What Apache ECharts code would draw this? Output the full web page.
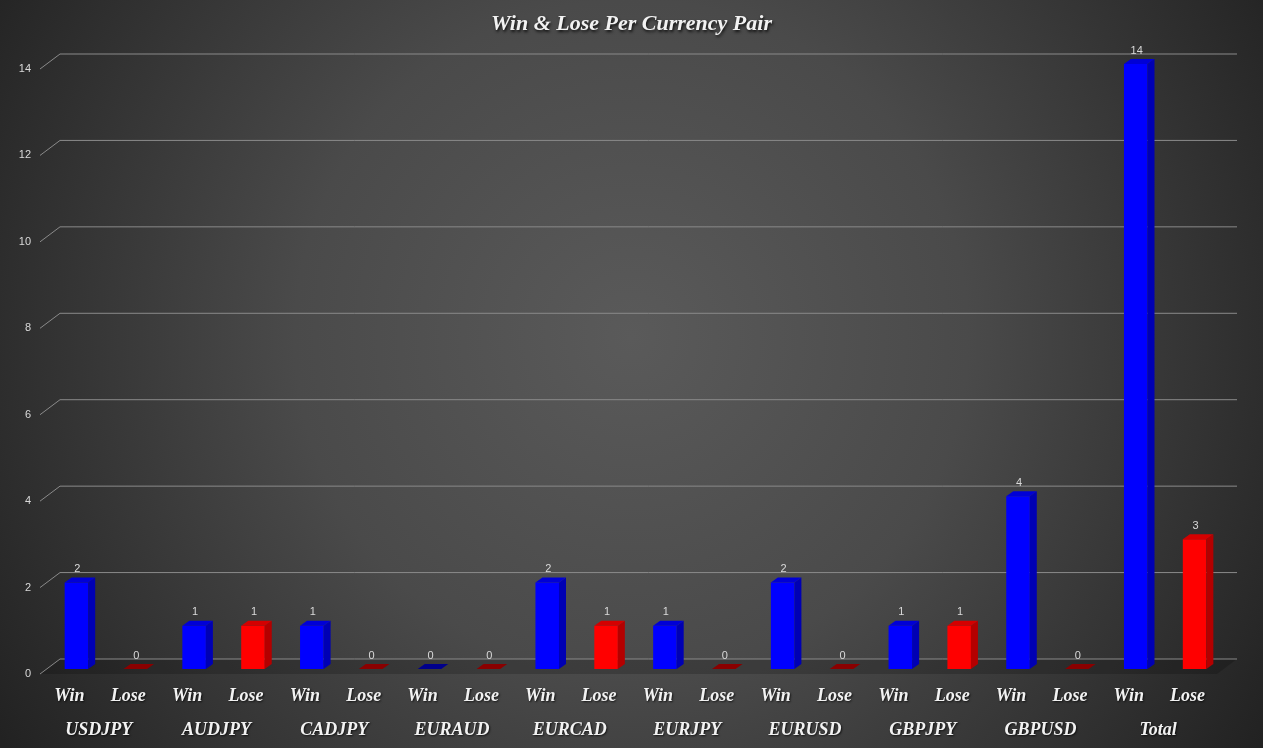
<!DOCTYPE html>
<html><head><meta charset="utf-8">
<script src="https://cdn.jsdelivr.net/npm/echarts@6/dist/echarts.min.js"></script>
<style>html,body{margin:0;padding:0;background:#333;} #main{width:1263px;height:748px;}</style>
</head><body><div id="main"></div>
<script>
const groups = ['USDJPY','AUDJPY','CADJPY','EURAUD','EURCAD','EURJPY','EURUSD','GBPJPY','GBPUSD','Total'];
const outcomes = ['Win','Lose'];
const winValues = [2,1,1,0,2,1,2,1,4,14];
const loseValues = [0,1,0,0,1,0,0,1,0,3];
const yTicks = [0,2,4,6,8,10,12,14];

const categories = [];
const barData = [];
groups.forEach((g, i) => {
  categories.push(g + '|' + outcomes[0]); barData.push([categories.length - 1, winValues[i], 0]);
  categories.push(g + '|' + outcomes[1]); barData.push([categories.length - 1, loseValues[i], 1]);
});

const WALL_DX = 20, WALL_DY = -15;
const FACE = ['#0000ff', '#ff0000'];
const SIDE = ['#0000b4', '#b40000'];
const TOP = ['#0000d6', '#d40000'];
const FLAT = ['#00008c', '#8a0000'];

const labelFont = {
  color: '#f2f2f2', fontFamily: 'Liberation Serif', fontStyle: 'italic', fontWeight: 'bold', fontSize: 18,
  textShadowColor: 'rgba(0,0,0,0.7)', textShadowBlur: 2, textShadowOffsetX: 1, textShadowOffsetY: 1
};

const chart = echarts.init(document.getElementById('main'), null, {renderer: 'canvas'});
chart.setOption({
  animation: false,
  backgroundColor: {
    type: 'radial', x: 0.5, y: 0.45, r: 1.0,
    colorStops: [{offset: 0, color: '#5a5a5a'}, {offset: 0.45, color: '#4a4a4a'}, {offset: 1, color: '#222222'}]
  },
  title: {
    text: 'Win & Lose Per Currency Pair', left: 'center', top: 8,
    textStyle: {
      color: '#f2f2f2', fontFamily: 'Liberation Serif', fontStyle: 'italic', fontWeight: 'bold', fontSize: 22,
      textShadowColor: 'rgba(0,0,0,0.8)', textShadowBlur: 3, textShadowOffsetX: 1, textShadowOffsetY: 2
    }
  },
  grid: {left: 40, right: 46, top: 69, bottom: 74, containLabel: false},
  xAxis: [{
    type: 'category', data: categories, position: 'bottom',
    axisLine: {show: false}, axisTick: {show: false}, splitLine: {show: false},
    axisLabel: Object.assign({margin: 13, interval: 0, formatter: v => v.split('|')[1]}, labelFont)
  }, {
    type: 'category', data: groups, position: 'bottom', offset: 34,
    axisLine: {show: false}, axisTick: {show: false}, splitLine: {show: false},
    axisLabel: Object.assign({margin: 13, interval: 0}, labelFont)
  }],
  yAxis: {
    type: 'value', min: 0, max: 14, interval: 2,
    axisLine: {show: false}, axisTick: {show: false}, splitLine: {show: false},
    axisLabel: {color: '#d9d9d9', fontSize: 11, fontFamily: 'Liberation Sans', margin: 9}
  },
  series: [{
    type: 'custom', z: 1, silent: true,
    data: [[0, 0]],
    encode: {x: 0, y: 1},
    renderItem: (params, api) => {
      const cs = params.coordSys;
      const y = api.coord([0, 0])[1];
      const x0 = cs.x, x1 = cs.x + cs.width;
      return {
        type: 'polygon',
        shape: {points: [[x0, y], [x1, y], [x1 + WALL_DX, y + WALL_DY], [x0 + WALL_DX, y + WALL_DY]]},
        style: {fill: 'rgba(0,0,0,0.18)'}
      };
    }
  }, {
    type: 'custom', z: 2, silent: true,
    data: yTicks.map(v => [0, v]),
    encode: {x: 0, y: 1},
    renderItem: (params, api) => {
      const cs = params.coordSys;
      const y = api.coord([0, api.value(1)])[1];
      const x0 = cs.x, x1 = cs.x + cs.width;
      return {
        type: 'polyline',
        shape: {points: [[x0, y], [x0 + WALL_DX, y + WALL_DY], [x1 + WALL_DX, y + WALL_DY]]},
        style: {stroke: '#8a8a8a', lineWidth: 1, fill: null}
      };
    }
  }, {
    type: 'custom', z: 3, silent: true,
    data: barData,
    encode: {x: 0, y: 1},
    renderItem: (params, api) => {
      const idx = api.value(0), v = api.value(1), t = api.value(2);
      const band = api.size([1, 0])[0];
      const base = api.coord([idx, 0]);
      const top = api.coord([idx, v]);
      const w = band * 0.4;
      const ox = 7, oy = -5, dx = 7, dy = -5;
      const xl = base[0] - w / 2 + ox, xr = xl + w;
      const yb = base[1] + oy, yt = top[1] + oy;
      const children = [];
      if (v > 0) {
        children.push({type: 'rect', shape: {x: xl, y: yt, width: w, height: yb - yt}, style: {fill: FACE[t]}});
        children.push({type: 'polygon', shape: {points: [[xr, yb], [xr, yt], [xr + dx, yt + dy], [xr + dx, yb + dy]]}, style: {fill: SIDE[t]}});
        children.push({type: 'polygon', shape: {points: [[xl, yt], [xr, yt], [xr + dx, yt + dy], [xl + dx, yt + dy]]}, style: {fill: TOP[t]}});
      } else {
        children.push({type: 'polygon', shape: {points: [[xl, yt], [xr, yt], [xr + dx, yt + dy], [xl + dx, yt + dy]]}, style: {fill: FLAT[t]}});
      }
      children.push({
        type: 'text',
        style: {
          text: String(v), x: xl + w / 2 + 1, y: yt + dy - 3,
          align: 'center', verticalAlign: 'bottom',
          fill: '#d9d9d9', fontSize: 11, fontFamily: 'Liberation Sans'
        }
      });
      return {type: 'group', children};
    }
  }]
});
</script>
</body></html>
